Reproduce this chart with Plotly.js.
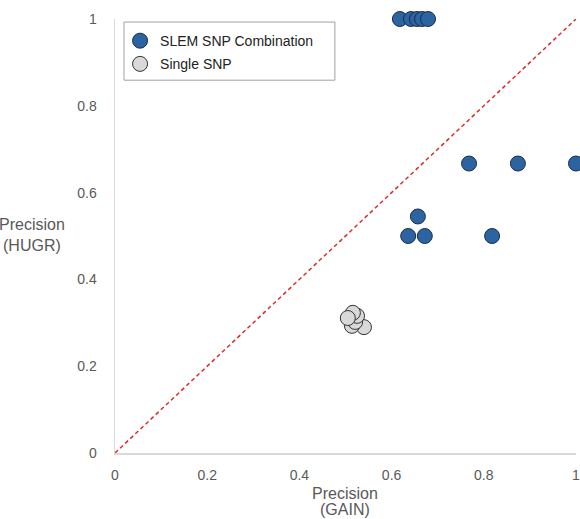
<!DOCTYPE html>
<html>
<head>
<meta charset="utf-8">
<script src="https://cdn.plot.ly/plotly-3.0.1.min.js"></script>
<style>
html,body{margin:0;padding:0;background:#fff;}
#chart{width:580px;height:519px;}
</style>
</head>
<body>
<div id="chart"></div>
<script>
// SLEM SNP Combination
const slemX = [0.618, 0.642, 0.655, 0.666, 0.679, 0.768, 0.874, 1.0, 0.657, 0.636, 0.672, 0.818];
const slemY = [1.0, 1.0, 1.0, 1.0, 1.0, 0.667, 0.667, 0.667, 0.545, 0.5, 0.5, 0.5];
// Single SNP
const singleX = [0.540, 0.514, 0.521, 0.525, 0.516, 0.505];
const singleY = [0.290, 0.293, 0.302, 0.316, 0.323, 0.311];
// Diagonal reference
const diagX = [0, 1];
const diagY = [0, 1];
const xTicks = [0, 0.2, 0.4, 0.6, 0.8, 1];
const xTickText = ['0', '0.2', '0.4', '0.6', '0.8', '1'];
const yTicks = [0, 0.2, 0.4, 0.6, 0.8, 1];
const yTickText = ['0', '0.2', '0.4', '0.6', '0.8', '1'];
const xTitleLines = ['Precision', '(GAIN)'];

const font = '"Liberation Sans", Arial, sans-serif';

const traces = [
  {
    x: diagX, y: diagY, mode: 'lines', showlegend: false, hoverinfo: 'skip',
    line: {color: '#dc2b2b', width: 1.5, dash: '4px,3px'}
  },
  {
    x: slemX, y: slemY, mode: 'markers', name: 'SLEM SNP Combination', cliponaxis: false,
    legendgroup: 'a',
    marker: {size: 15, color: '#2c64a2', line: {color: '#1b2c48', width: 1}}
  },
  {
    x: singleX, y: singleY, mode: 'markers', name: 'Single SNP', cliponaxis: false,
    legendgroup: 'b',
    marker: {size: 15, color: '#d9d9d9', line: {color: '#333333', width: 1}}
  }
];

const layout = {
  width: 580, height: 519,
  margin: {l: 115, r: 4, t: 19, b: 66},
  paper_bgcolor: '#ffffff', plot_bgcolor: '#ffffff',
  font: {family: font, color: '#595959', size: 14},
  showlegend: true,
  legend: {
    x: 0.011, y: 0.986, xanchor: 'left', yanchor: 'top',
    borderwidth: 0, bgcolor: 'rgba(0,0,0,0)',
    font: {family: font, size: 14, color: '#222222'},
    tracegroupgap: 2, itemwidth: 30
  },
  shapes: [
    {
      type: 'rect', xref: 'paper', yref: 'paper',
      x0: 0.0195, x1: 0.477, y0: 0.859, y1: 0.993,
      line: {color: '#a0a0a0', width: 1}, fillcolor: 'rgba(0,0,0,0)', layer: 'above'
    }
  ],
  xaxis: {
    range: [0, 1], tickvals: xTicks, ticktext: xTickText,
    showgrid: false, zeroline: false, showline: true, linecolor: '#d9d9d9', linewidth: 1.5,
    ticks: '', ticklabelstandoff: 9, ticklabeloverflow: 'allow', tickfont: {size: 14, color: '#595959'},
    title: {text: ''}
  },
  yaxis: {
    range: [0, 1], tickvals: yTicks, ticktext: yTickText,
    showgrid: false, zeroline: false, showline: true, linecolor: '#d9d9d9', linewidth: 1.5,
    ticks: '', ticklabelstandoff: 14, tickfont: {size: 14, color: '#595959'},
    title: {text: ''}
  },
  annotations: [
    {
      xref: 'paper', yref: 'paper', x: -0.179, y: 0.502, xanchor: 'center', yanchor: 'middle',
      text: 'Precision<br>(HUGR)', showarrow: false,
      font: {family: font, size: 16, color: '#595959'}
    },
    {
      xref: 'paper', yref: 'paper', x: 0.499, y: -0.0922, xanchor: 'center', yanchor: 'middle',
      text: xTitleLines[0], showarrow: false,
      font: {family: font, size: 16, color: '#595959'}
    },
    {
      xref: 'paper', yref: 'paper', x: 0.499, y: -0.1313, xanchor: 'center', yanchor: 'middle',
      text: xTitleLines[1], showarrow: false,
      font: {family: font, size: 16, color: '#595959'}
    }
  ]
};

Plotly.newPlot('chart', traces, layout, {displayModeBar: false, staticPlot: true});
</script>
</body>
</html>
